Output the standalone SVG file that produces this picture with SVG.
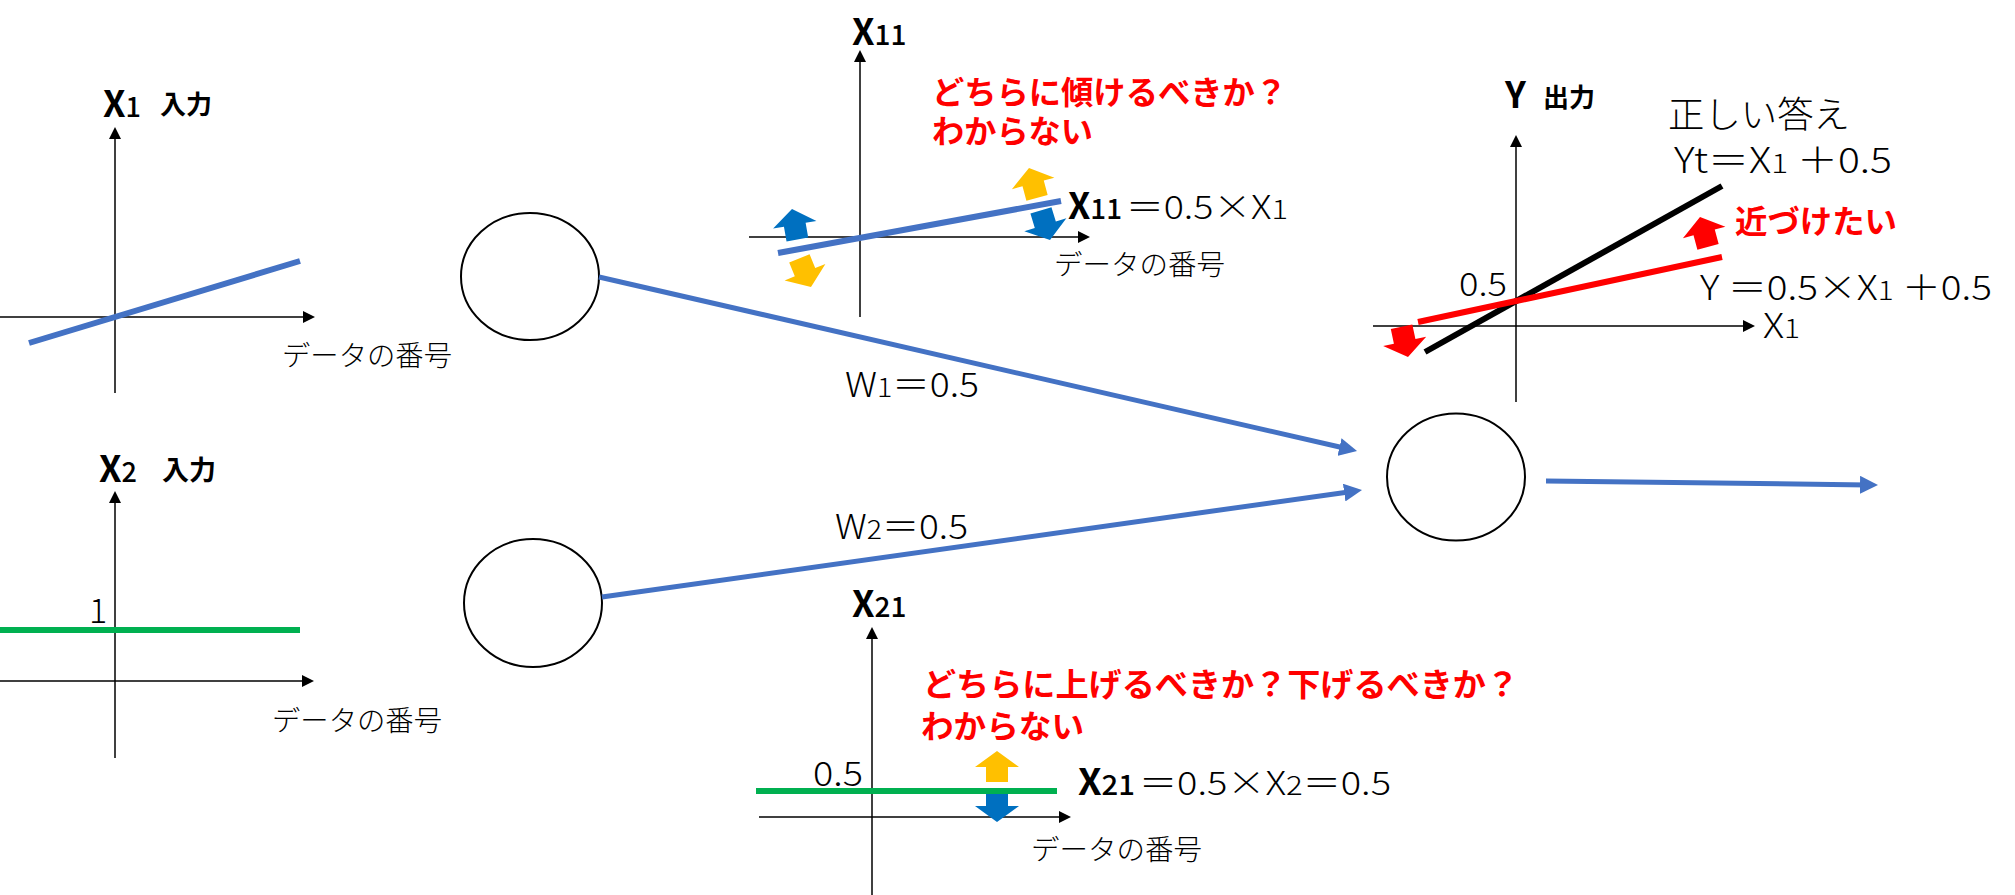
<svg xmlns="http://www.w3.org/2000/svg" xmlns:xlink="http://www.w3.org/1999/xlink" width="2015" height="895" viewBox="0 0 2015 895">
<style>
.ax{stroke:#000;stroke-width:1.5;fill:none;marker-end:url(#ah)}
.t{font-family:"Noto Sans CJK JP Light","Noto Sans CJK JP","Noto Sans",sans-serif;font-weight:300;fill:#000}
.b{font-family:"Noto Sans CJK JP","Noto Sans",sans-serif;font-weight:700}
.r{font-family:"Noto Sans CJK JP","Noto Sans",sans-serif;fill:#FF0000;font-weight:700;font-size:32px}
.node{fill:#fff;stroke:#000;stroke-width:2}
.conn{stroke:#4472C4;stroke-width:5;fill:none;marker-end:url(#bh)}
.bl{stroke:#4472C4;stroke-width:6;fill:none}
.gr{stroke:#00B050;stroke-width:6;fill:none}
.lbl{font-size:28px}
</style>
<defs>
<marker id="ah" markerUnits="userSpaceOnUse" markerWidth="12" markerHeight="12" viewBox="0 0 12 12" refX="8" refY="6" orient="auto"><path d="M0,0L12,6L0,12z" fill="#000"/></marker>
<marker id="bh" markerUnits="userSpaceOnUse" markerWidth="18" markerHeight="18" viewBox="0 0 18 18" refX="8" refY="9" orient="auto"><path d="M0,0L18,9L0,18z" fill="#4472C4"/></marker>
<path id="barrow" d="M0,0 L22,16 L11,16 L11,31 L-11,31 L-11,16 L-22,16 Z"/>
</defs>
<rect width="2015" height="895" fill="#fff"/>

<g id="panel-x1">
<line class="ax" x1="115" y1="393" x2="115" y2="131"/>
<line class="ax" x1="0" y1="317" x2="311" y2="317"/>
<line class="bl" x1="29" y1="343" x2="300" y2="261"/>
<text class="t b" x="103" y="117"><tspan font-size="36">X</tspan><tspan font-size="27" font-weight="500">1</tspan></text>
<text class="t b" x="160" y="114" font-size="26">入力</text>
<text class="t lbl" x="282" y="366" textLength="170" lengthAdjust="spacingAndGlyphs">データの番号</text>
</g>

<g id="panel-x2">
<line class="ax" x1="115" y1="758" x2="115" y2="495"/>
<line class="ax" x1="0" y1="681" x2="310" y2="681"/>
<line class="gr" x1="0" y1="630" x2="300" y2="630"/>
<text class="t" x="89" y="623" font-size="34">1</text>
<text class="t b" x="99" y="482"><tspan font-size="36">X</tspan><tspan font-size="27" font-weight="500">2</tspan></text>
<text class="t b" x="162" y="480" font-size="27">入力</text>
<text class="t lbl" x="272" y="731" textLength="170" lengthAdjust="spacingAndGlyphs">データの番号</text>
</g>

<g id="node-in1"><ellipse class="node" cx="530" cy="276.5" rx="69" ry="63.5"/></g>
<g id="node-in2"><ellipse class="node" cx="533" cy="603" rx="69" ry="64"/></g>
<g id="node-out"><ellipse class="node" cx="1456" cy="477" rx="69" ry="63.5"/></g>

<g id="connectors">
<line class="conn" x1="599" y1="277" x2="1347.3" y2="448.8"/>
<line class="conn" x1="602" y1="597" x2="1352.1" y2="491.4"/>
<line class="conn" x1="1546" y1="481" x2="1868" y2="484.9"/>
<text class="t" x="845" y="397" font-size="34" textLength="134" lengthAdjust="spacingAndGlyphs">W<tspan font-size="26">1</tspan>＝0.5</text>
<text class="t" x="835" y="539" font-size="34" textLength="133" lengthAdjust="spacingAndGlyphs">W<tspan font-size="26">2</tspan>＝0.5</text>
</g>

<g id="panel-x11">
<line class="ax" x1="860" y1="317" x2="860" y2="54"/>
<line class="ax" x1="749" y1="237" x2="1086" y2="237"/>
<use xlink:href="#barrow" href="#barrow" fill="#0070C0" transform="translate(792,209) rotate(-10)"/>
<use xlink:href="#barrow" href="#barrow" fill="#FFC000" transform="translate(811,287) rotate(158)"/>
<use xlink:href="#barrow" href="#barrow" fill="#FFC000" transform="translate(1029,168) rotate(-15)"/>
<use xlink:href="#barrow" href="#barrow" fill="#0070C0" transform="translate(1050,240) rotate(163)"/>
<line class="bl" x1="778" y1="253" x2="1061" y2="201"/>
<text class="t b" x="852" y="45"><tspan font-size="36">X</tspan><tspan font-size="28" font-weight="500">11</tspan></text>
<text class="t r" x="932" y="104" textLength="355" lengthAdjust="spacingAndGlyphs">どちらに傾けるべきか？</text>
<text class="t r" x="932" y="143" textLength="161" lengthAdjust="spacingAndGlyphs">わからない</text>
<text class="t b" x="1068" y="219" textLength="54" lengthAdjust="spacingAndGlyphs"><tspan font-size="36">X</tspan><tspan font-size="28" font-weight="500">11</tspan></text>
<text class="t" x="1126" y="219" font-size="33" textLength="162" lengthAdjust="spacingAndGlyphs">＝0.5×X<tspan font-size="27">1</tspan></text>
<text class="t lbl" x="1054" y="275" textLength="171" lengthAdjust="spacingAndGlyphs">データの番号</text>
</g>

<g id="panel-x21">
<line class="ax" x1="872" y1="895" x2="872" y2="631"/>
<line class="ax" x1="759" y1="817" x2="1067" y2="817"/>
<use xlink:href="#barrow" href="#barrow" fill="#FFC000" transform="translate(997,751)"/>
<use xlink:href="#barrow" href="#barrow" fill="#0070C0" transform="translate(997,822) rotate(180)"/>
<line class="gr" x1="756" y1="791" x2="1057" y2="791"/>
<text class="t" x="813" y="786" font-size="34" textLength="50" lengthAdjust="spacingAndGlyphs">0.5</text>
<text class="t b" x="852" y="617"><tspan font-size="36">X</tspan><tspan font-size="28" font-weight="500">21</tspan></text>
<text class="t r" x="923" y="696" textLength="596" lengthAdjust="spacingAndGlyphs">どちらに上げるべきか？下げるべきか？</text>
<text class="t r" x="921" y="738" textLength="163" lengthAdjust="spacingAndGlyphs">わからない</text>
<text class="t b" x="1078" y="795" textLength="57" lengthAdjust="spacingAndGlyphs"><tspan font-size="36">X</tspan><tspan font-size="28" font-weight="500">21</tspan></text>
<text class="t" x="1139" y="795" font-size="33" textLength="252" lengthAdjust="spacingAndGlyphs">＝0.5×X<tspan font-size="27">2</tspan>＝0.5</text>
<text class="t lbl" x="1031" y="860" textLength="171" lengthAdjust="spacingAndGlyphs">データの番号</text>
</g>

<g id="panel-y">
<line class="ax" x1="1516" y1="402" x2="1516" y2="139"/>
<line class="ax" x1="1373" y1="326" x2="1751" y2="326"/>
<line x1="1425" y1="352" x2="1722" y2="186" stroke="#000" stroke-width="6"/>
<line x1="1418" y1="322" x2="1722" y2="257" stroke="#FF0000" stroke-width="6"/>
<use xlink:href="#barrow" href="#barrow" fill="#FF0000" transform="translate(1700,217) rotate(-15)"/>
<use xlink:href="#barrow" href="#barrow" fill="#FF0000" transform="translate(1408,357) rotate(168)"/>
<text class="t b" x="1505" y="108" font-size="36">Y</text>
<text class="t b" x="1543" y="107" font-size="26">出力</text>
<text class="t" x="1668" y="128" font-size="36" textLength="182" lengthAdjust="spacingAndGlyphs">正しい答え</text>
<text class="t" x="1674" y="173" font-size="35" textLength="218" lengthAdjust="spacingAndGlyphs">Yt＝X<tspan font-size="27">1</tspan> ＋0.5</text>
<text class="t r" x="1735" y="233" textLength="162" lengthAdjust="spacingAndGlyphs">近づけたい</text>
<text class="t" x="1459" y="296" font-size="33" textLength="48" lengthAdjust="spacingAndGlyphs">0.5</text>
<text class="t" x="1700" y="300" font-size="34" textLength="292" lengthAdjust="spacingAndGlyphs">Y ＝0.5×X<tspan font-size="26">1</tspan> ＋0.5</text>
<text class="t" x="1763" y="338" font-size="34" textLength="37" lengthAdjust="spacingAndGlyphs">X<tspan font-size="26">1</tspan></text>
</g>
</svg>
